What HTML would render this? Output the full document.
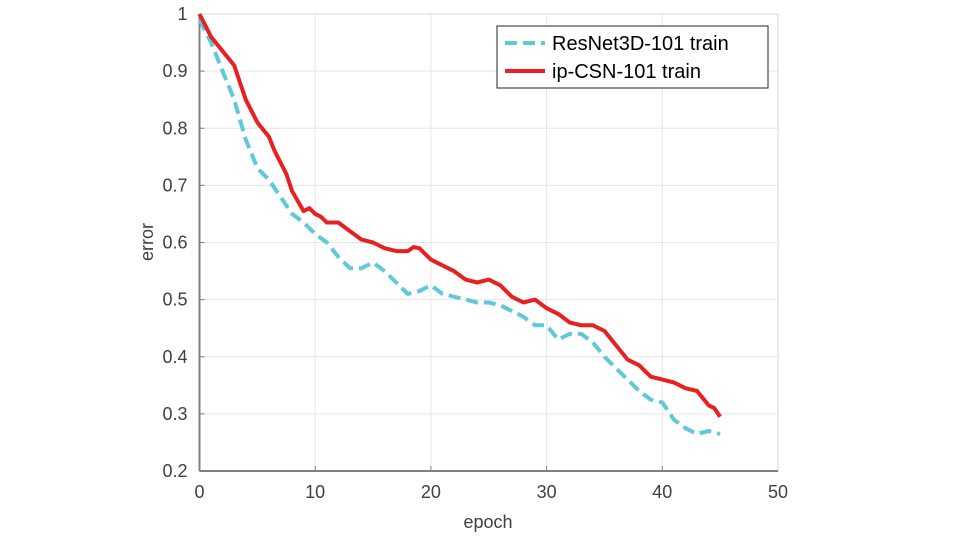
<!DOCTYPE html>
<html><head><meta charset="utf-8"><style>
body{margin:0;background:#fff;}
svg{display:block;font-family:"Liberation Sans",sans-serif;}
</style></head><body>
<svg id="chart" width="963" height="540">
<g id="grid"></g>
<g id="axes"></g>
<g id="series"></g>
<text x="488" y="528" font-size="18" fill="#404040" text-anchor="middle">epoch</text>
<text transform="translate(153,242) rotate(-90)" font-size="18" fill="#404040" text-anchor="middle">error</text>
<g>
<rect x="497" y="26" width="271" height="62" fill="#fff" stroke="#262626" stroke-width="1"/>
<line x1="505" y1="43" x2="545" y2="43" stroke="#5fc8d9" stroke-width="4" stroke-dasharray="12,6"/>
<text x="552" y="50" font-size="20" fill="#000">ResNet3D-101 train</text>
<line x1="505" y1="71" x2="545" y2="71" stroke="#e8201f" stroke-width="4"/>
<text x="552" y="78" font-size="20" fill="#000">ip-CSN-101 train</text>
</g>
</svg>
<script>
const xTicks=[0,10,20,30,40,50];
const yTicks=[0.2,0.3,0.4,0.5,0.6,0.7,0.8,0.9,1];
const yTickLabels=["0.2","0.3","0.4","0.5","0.6","0.7","0.8","0.9","1"];
const csnEpochs=[0,0.5,1,2,3,3.5,4,5,6,6.5,7,7.5,8,9,9.5,10,10.5,11,12,13,14,15,16,17,18,18.5,19,20,21,22,23,24,25,26,27,28,29,30,31,32,33,34,35,36,37,38,39,40,41,42,43,44,44.5,45];
const csnError=[1.0,0.98,0.96,0.935,0.91,0.88,0.85,0.81,0.785,0.76,0.74,0.72,0.69,0.655,0.66,0.65,0.645,0.635,0.635,0.62,0.605,0.6,0.59,0.585,0.585,0.592,0.59,0.57,0.56,0.55,0.535,0.53,0.535,0.525,0.505,0.495,0.5,0.485,0.475,0.46,0.455,0.455,0.445,0.42,0.395,0.385,0.365,0.36,0.355,0.345,0.34,0.315,0.31,0.295];
const resEpochs=[0,1,2,3,4,5,6,7,8,9,10,11,12,13,14,15,16,17,18,19,20,21,22,23,24,25,26,27,28,29,30,31,32,33,34,35,36,37,38,39,40,41,42,43,44,45];
const resError=[0.99,0.95,0.9,0.85,0.78,0.73,0.71,0.68,0.65,0.635,0.615,0.6,0.575,0.555,0.555,0.565,0.55,0.53,0.51,0.515,0.525,0.51,0.505,0.5,0.495,0.495,0.49,0.48,0.47,0.455,0.455,0.43,0.44,0.44,0.425,0.4,0.38,0.36,0.34,0.325,0.32,0.29,0.275,0.265,0.27,0.265];
const X0=199.5,X1=778,Y0=471,Y1=14;
const sx=v=>X0+(v-0)/50*(X1-X0);
const sy=v=>Y0-(v-0.2)/0.8*(Y0-Y1);
const NS="http://www.w3.org/2000/svg";
function mk(tag,attrs,parent){const e=document.createElementNS(NS,tag);for(const k in attrs)e.setAttribute(k,attrs[k]);parent.appendChild(e);return e;}
const grid=document.getElementById('grid'),axes=document.getElementById('axes'),series=document.getElementById('series');
xTicks.forEach(t=>{
  const g=mk('line',{x1:sx(t),x2:sx(t),y1:Y1,y2:Y0,stroke:'#e6e6e6','stroke-width':1},grid);
  
  
  const tk=mk('line',{x1:sx(t),x2:sx(t),y1:Y0,y2:Y0-5,stroke:'#808080','stroke-width':1},axes);
  
  
  const tx=mk('text',{x:sx(t),y:Y0+27,'font-size':18,fill:'#404040','text-anchor':'middle'},axes);
  tx.textContent=String(t);
  
  
});
yTicks.forEach((t,i)=>{
  const g=mk('line',{x1:X0,x2:X1,y1:sy(t),y2:sy(t),stroke:'#e6e6e6','stroke-width':1},grid);
  
  
  const tk=mk('line',{x1:X0,x2:X0+5,y1:sy(t),y2:sy(t),stroke:'#808080','stroke-width':1},axes);
  
  
  const tx=mk('text',{x:X0-12,y:sy(t)+6,'font-size':18,fill:'#404040','text-anchor':'end'},axes);
  tx.textContent=yTickLabels[i];
  
  
});
const box=mk('rect',{x:X0,y:Y1,width:X1-X0,height:Y0-Y1,fill:'none',stroke:'#d8d8d8','stroke-width':1},axes);


const xa=mk('line',{x1:X0,x2:X1,y1:Y0,y2:Y0,stroke:'#808080','stroke-width':2},axes);


const ya=mk('line',{x1:X0,x2:X0,y1:Y1,y2:Y0,stroke:'#808080','stroke-width':2},axes);


const pts=(xs,ys)=>xs.map((x,i)=>sx(x).toFixed(1)+','+sy(ys[i]).toFixed(1)).join(' ');
const l1=mk('polyline',{points:pts(resEpochs,resError),fill:'none',stroke:'#5fc8d9','stroke-width':4,'stroke-dasharray':'12,6','stroke-linejoin':'round'},series);


const l2=mk('polyline',{points:pts(csnEpochs,csnError),fill:'none',stroke:'#e8201f','stroke-width':4,'stroke-linejoin':'round'},series);


</script>
</body></html>
